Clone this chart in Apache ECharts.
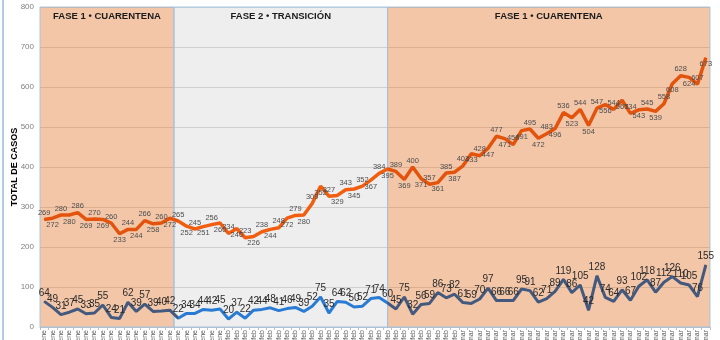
<!DOCTYPE html>
<html>
<head>
<meta charset="utf-8">
<script src="https://cdn.jsdelivr.net/npm/echarts@6/dist/echarts.min.js"></script>
<style>html,body{margin:0;padding:0;background:#fff}#c{width:720px;height:340px}</style>
</head>
<body>
<div id="c"></div>
<script>
// ---- data ----
const dates = [
 '10-ene','11-ene','12-ene','13-ene','14-ene','15-ene','16-ene','17-ene','18-ene','19-ene','20-ene',
 '21-ene','22-ene','23-ene','24-ene','25-ene','26-ene','27-ene','28-ene','29-ene','30-ene','31-ene',
 '1-feb','2-feb','3-feb','4-feb','5-feb','6-feb','7-feb','8-feb','9-feb','10-feb','11-feb','12-feb',
 '13-feb','14-feb','15-feb','16-feb','17-feb','18-feb','19-feb','20-feb','21-feb','22-feb','23-feb',
 '24-feb','25-feb','26-feb','27-feb','28-feb',
 '1-mar','2-mar','3-mar','4-mar','5-mar','6-mar','7-mar','8-mar','9-mar','10-mar','11-mar','12-mar',
 '13-mar','14-mar','15-mar','16-mar','17-mar','18-mar','19-mar','20-mar','21-mar','22-mar','23-mar',
 '24-mar','25-mar','26-mar','27-mar','28-mar','29-mar','30-mar'
];
const totalCases = [
 269,272,280,280,286,269,270,269,260,233,244,244,266,258,260,272,
 265,252,245,251,256,260,234,246,223,226,238,244,248,272,279,280,309,352,327,329,343,345,352,367,384,
 395,389,369,400,371,357,361,385,387,403,433,428,447,477,471,456,491,495,472,483,496,
 536,523,544,504,547,556,544,567,534,543,545,539,558,608,628,624,607,673
];
const newCases = [
 64,49,31,37,45,33,35,55,24,21,62,39,57,39,40,42,
 22,34,34,44,42,45,20,37,22,42,44,48,41,46,49,39,52,75,35,64,62,50,52,71,74,
 60,45,75,32,56,59,86,73,82,61,59,70,97,66,66,66,95,91,62,71,89,119,86,105,42,128,74,64,93,67,102,118,87,112,126,110,105,76,155
];
const phaseNames = ['FASE 1 • CUARENTENA', 'FASE 2 • TRANSICIÓN', 'FASE 1 • CUARENTENA'];
const phaseFrom = [-0.5, 15.5, 41];
const phaseTo = [15.5, 41, 79.5];
const yTitle = 'TOTAL DE CASOS';

// ---- chart ----
const FONT = 'Liberation Sans, Arial, sans-serif';
const chart = echarts.init(document.getElementById('c'), null, {renderer: 'canvas'});
const areaFill = ['rgba(225,112,38,0.4)', 'rgba(170,170,170,0.2)', 'rgba(225,112,38,0.4)'];

const areas = phaseNames.map((n, i) => [
  {xAxis: phaseFrom[i], name: n, itemStyle: {color: areaFill[i]}},
  {xAxis: phaseTo[i]}
]);

const phasePieces = (c1, c2) => [
  {lt: phaseTo[0], color: c1},
  {gte: phaseTo[0], lt: phaseTo[1], color: c2},
  {gte: phaseTo[1], color: c1}
];

chart.setOption({
  animation: false,
  textStyle: {fontFamily: FONT},
  grid: {left: 40, right: 10, top: 7, bottom: 13, containLabel: false, outerBoundsMode: 'none'},
  xAxis: [{
    type: 'category', data: dates, boundaryGap: true,
    axisLine: {lineStyle: {color: '#bfbfbf'}},
    axisTick: {show: true, length: 3, lineStyle: {color: '#bfbfbf'}},
    axisLabel: {interval: 0, rotate: 90, fontSize: 7, color: '#595959', margin: 3, fontFamily: FONT}
  }, {
    type: 'value', min: -0.5, max: 79.5, show: false
  }],
  yAxis: {
    type: 'value', min: 0, max: 800, interval: 100,
    name: yTitle, nameLocation: 'middle', nameGap: 21, nameMoveOverlap: false,
    nameTextStyle: {fontWeight: 'bold', fontSize: 9, color: '#000', fontFamily: FONT},
    axisLine: {show: false}, axisTick: {show: false},
    axisLabel: {fontSize: 8, color: '#7f7f7f', margin: 6, fontFamily: FONT},
    splitLine: {lineStyle: {color: '#d9d9d9', width: 1}}
  },
  visualMap: [
    {type: 'piecewise', show: false, seriesIndex: 1, dimension: 0, pieces: phasePieces('#E2540E', '#F25E10')},
    {type: 'piecewise', show: false, seriesIndex: 2, dimension: 0, pieces: phasePieces('#43597D', '#2A7BD3')}
  ],
  series: [{
    type: 'line', xAxisIndex: 1, data: [], silent: true, z: 1,
    markArea: {
      silent: true,
      itemStyle: {borderColor: 'rgba(157,195,230,0.9)', borderWidth: 1},
      label: {show: true, position: 'insideTop', distance: 5, fontSize: 9.5, fontWeight: 'bold', color: '#1a1a1a', fontFamily: FONT},
      data: areas
    }
  }, {
    type: 'line', name: 'total', z: 3,
    data: totalCases.map((v, i) => ({value: v, label: {position: i % 2 ? 'bottom' : 'top'}})),
    symbol: 'circle', symbolSize: 1, showSymbol: true,
    lineStyle: {width: 3.5},
    label: {show: true, fontSize: 7.5, color: '#4d4d4d', distance: 2, fontFamily: FONT}
  }, {
    type: 'line', name: 'nuevos', z: 4,
    data: newCases,
    symbol: 'circle', symbolSize: 1, showSymbol: true,
    lineStyle: {width: 3},
    label: {show: true, position: 'top', fontSize: 10, color: '#2b2b2b', distance: 3, fontFamily: FONT}
  }],
  graphic: [{
    type: 'line', shape: {x1: 3, y1: 0, x2: 3, y2: 340},
    style: {stroke: '#5B9BD5', lineWidth: 1}
  }]
});
</script>
</body>
</html>
